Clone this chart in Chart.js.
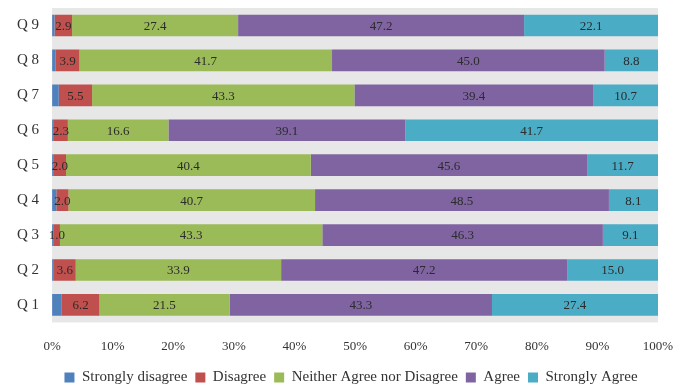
<!DOCTYPE html>
<html>
<head>
<meta charset="utf-8">
<script src="https://cdn.jsdelivr.net/npm/chart.js@4/dist/chart.umd.min.js"></script>
<style>
  html, body { margin: 0; padding: 0; background: #fff; }
  #wrap { width: 687px; height: 385px; }
</style>
</head>
<body>
<div id="wrap"><canvas id="canvas"></canvas></div>
<script>
// questions, top to bottom
var questions = ['Q 9', 'Q 8', 'Q 7', 'Q 6', 'Q 5', 'Q 4', 'Q 3', 'Q 2', 'Q 1'];

var stronglyDisagree = [0.4, 0.6, 1.1, 0.3, 0.3, 0.7, 0.3, 0.3, 1.6];
var disagree         = [2.9, 3.9, 5.5, 2.3, 2.0, 2.0, 1.0, 3.6, 6.2];
var neither          = [27.4, 41.7, 43.3, 16.6, 40.4, 40.7, 43.3, 33.9, 21.5];
var agree            = [47.2, 45.0, 39.4, 39.1, 45.6, 48.5, 46.3, 47.2, 43.3];
var stronglyAgree    = [22.1, 8.8, 10.7, 41.7, 11.7, 8.1, 9.1, 15.0, 27.4];

var serif = '"Liberation Serif", "DejaVu Serif", serif';
Chart.defaults.font.family = serif;

// grey panel behind the bars
var panelBg = {
    id: 'panelBg',
    beforeDraw: function(chart){
        var a = chart.chartArea;
        var ctx = chart.ctx;
        ctx.save();
        ctx.fillStyle = '#e7e7e7';
        ctx.fillRect(a.left, a.top, a.right - a.left, a.bottom - a.top);
        ctx.restore();
    }
};

// push the legend a bit to the right, like the original
var legendShift = {
    id: 'legendShift',
    afterLayout: function(chart){
        if (chart.legend) {
            chart.legend.left += 16;
            chart.legend.right += 16;
        }
    }
};

// value labels in the middle of each segment (not the blue one)
var barLabels = {
    id: 'barLabels',
    afterDatasetsDraw: function(chart){
        var ctx = chart.ctx;
        ctx.save();
        ctx.font = '13px ' + serif;
        ctx.fillStyle = '#2b2b2b';
        ctx.textAlign = 'center';
        ctx.textBaseline = 'middle';
        chart.data.datasets.forEach(function(ds, i){
            if (i == 0) return;
            var meta = chart.getDatasetMeta(i);
            meta.data.forEach(function(bar, j){
                var cx = (bar.x + bar.base) / 2;
                ctx.fillText(ds.data[j].toFixed(1), cx, bar.y + 1);
            });
        });
        ctx.restore();
    }
};

var ctx = document.getElementById('canvas').getContext('2d');
var myChart = new Chart(ctx, {
    type: 'bar',
    data: {
        labels: questions,
        datasets: [
            { label: 'Strongly disagree', data: stronglyDisagree, backgroundColor: '#4f81bd' },
            { label: 'Disagree', data: disagree, backgroundColor: '#c0504d' },
            { label: 'Neither Agree nor Disagree', data: neither, backgroundColor: '#9bbb59' },
            { label: 'Agree', data: agree, backgroundColor: '#8064a2' },
            { label: 'Strongly Agree', data: stronglyAgree, backgroundColor: '#4bacc6' }
        ]
    },
    options: {
        indexAxis: 'y',
        responsive: true,
        maintainAspectRatio: false,
        animation: false,
        datasets: {
            bar: { barPercentage: 0.62, categoryPercentage: 1.0, borderWidth: 0 }
        },
        layout: { padding: { left: 12, right: 29, top: 8, bottom: -10 } },
        scales: {
            x: {
                stacked: true,
                min: 0,
                max: 100,
                grid: { display: false },
                border: { display: false },
                ticks: {
                    stepSize: 10,
                    padding: 8,
                    color: '#333',
                    font: { family: serif, size: 13 },
                    callback: function(v){ return v + '%'; }
                }
            },
            y: {
                stacked: true,
                grid: { display: false },
                border: { display: false },
                afterFit: function(s){
                    s.paddingTop = 0;
                    s.paddingBottom = 0;
                },
                ticks: {
                    padding: 5,
                    color: '#333',
                    font: { family: serif, size: 15 }
                }
            }
        },
        plugins: {
            legend: {
                position: 'bottom',
                labels: {
                    boxWidth: 10,
                    boxHeight: 10,
                    padding: 8,
                    color: '#333',
                    font: { family: serif, size: 15 }
                }
            },
            tooltip: { enabled: false }
        }
    },
    plugins: [panelBg, legendShift, barLabels]
});
</script>
</body>
</html>
